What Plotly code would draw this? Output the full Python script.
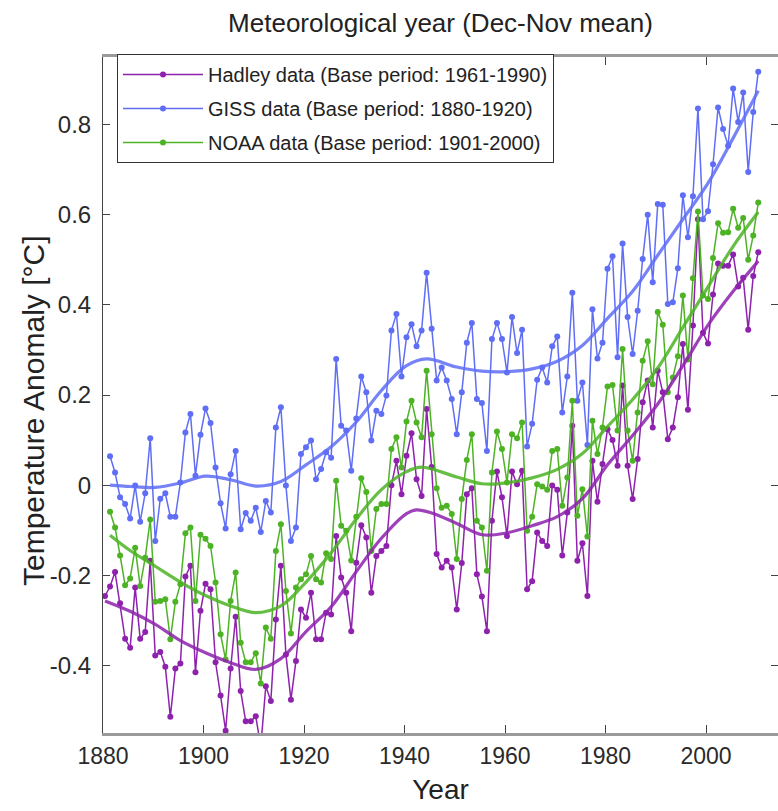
import numpy as np
import plotly.graph_objects as go

# ---------------- data ----------------
hadley_years = list(range(1880, 2011))
hadley = [
    -0.246, -0.225, -0.193, -0.262, -0.341, -0.361, -0.227, -0.341, -0.326, -0.168,
    -0.378, -0.370, -0.403, -0.514, -0.407, -0.396, -0.203, -0.179, -0.415, -0.279,
    -0.219, -0.231, -0.393, -0.467, -0.545, -0.407, -0.292, -0.457, -0.524, -0.524,
    -0.513, -0.580, -0.446, -0.479, -0.298, -0.179, -0.376, -0.476, -0.390, -0.276,
    -0.294, -0.239, -0.342, -0.342, -0.283, -0.287, -0.113, -0.205, -0.239, -0.324,
    -0.172, -0.089, -0.116, -0.239, -0.157, -0.146, -0.135, 0.000, 0.054, -0.020,
    0.065, 0.115, 0.013, -0.024, 0.169, 0.040, -0.153, -0.183, -0.168, -0.183,
    -0.276, -0.173, -0.020, -0.007, -0.198, -0.247, -0.324, -0.079, 0.030, -0.027,
    -0.113, 0.030, 0.002, 0.032, -0.231, -0.213, -0.105, -0.124, -0.135, -0.001,
    -0.010, -0.156, -0.061, 0.132, -0.168, -0.129, -0.246, 0.054, -0.037, 0.047,
    0.124, 0.100, 0.043, 0.221, 0.043, -0.031, 0.058, 0.184, 0.232, 0.128,
    0.254, 0.206, 0.102, 0.128, 0.195, 0.313, 0.167, 0.354, 0.590, 0.338,
    0.314, 0.423, 0.492, 0.487, 0.487, 0.512, 0.441, 0.460, 0.345, 0.464,
    0.517,
]

giss_years = list(range(1881, 2011))
giss = [
    0.064, 0.028, -0.027, -0.042, -0.074, -0.001, -0.081, -0.018, 0.104,
    -0.124, -0.030, -0.018, -0.070, -0.070, 0.006, 0.117, 0.158, 0.021, 0.112,
    0.170, 0.138, 0.039, -0.040, -0.096, 0.024, 0.076, -0.098, -0.062, -0.079,
    -0.050, -0.104, -0.035, -0.061, 0.128, 0.173, -0.001, -0.124, -0.094, 0.069,
    0.084, 0.099, 0.013, 0.036, 0.073, 0.061, 0.280, 0.132, 0.121, 0.032,
    0.148, 0.241, 0.206, 0.099, 0.165, 0.158, 0.199, 0.343, 0.380, 0.241,
    0.328, 0.357, 0.308, 0.343, 0.471, 0.347, 0.232, 0.261, 0.232, 0.191,
    0.113, 0.206, 0.316, 0.360, 0.191, 0.182, 0.076, 0.324, 0.360, 0.324,
    0.250, 0.373, 0.293, 0.345, 0.086, 0.136, 0.234, 0.261, 0.228, 0.308,
    0.330, 0.161, 0.241, 0.427, 0.187, 0.228, 0.089, 0.390, 0.281, 0.316,
    0.480, 0.508, 0.284, 0.536, 0.373, 0.291, 0.387, 0.502, 0.600, 0.450,
    0.624, 0.622, 0.402, 0.406, 0.481, 0.643, 0.550, 0.641, 0.836, 0.590,
    0.608, 0.712, 0.838, 0.790, 0.753, 0.880, 0.806, 0.871, 0.695, 0.828,
    0.917,
]

noaa_years = list(range(1881, 2011))
noaa = [
    -0.059, -0.094, -0.156, -0.222, -0.207, -0.139, -0.224, -0.161, -0.076,
    -0.259, -0.257, -0.253, -0.342, -0.259, -0.220, -0.107, -0.094, -0.257, -0.110,
    -0.119, -0.135, -0.216, -0.331, -0.387, -0.257, -0.194, -0.350, -0.393, -0.393,
    -0.373, -0.440, -0.316, -0.341, -0.146, -0.087, -0.235, -0.329, -0.227, -0.209,
    -0.198, -0.157, -0.209, -0.216, -0.151, -0.164, 0.010, -0.090, -0.101, -0.167,
    -0.070, 0.015, -0.015, -0.146, -0.053, -0.042, -0.042, 0.080, 0.106, 0.039,
    0.141, 0.187, 0.139, 0.106, 0.254, 0.113, -0.007, -0.050, -0.046, -0.064,
    -0.164, -0.031, 0.056, 0.113, -0.079, -0.094, -0.190, 0.028, 0.119, 0.080,
    0.006, 0.113, 0.104, 0.139, -0.101, -0.070, 0.002, -0.003, -0.010, 0.076,
    0.080, -0.046, 0.017, 0.187, -0.068, -0.009, -0.114, 0.143, 0.069, 0.128,
    0.219, 0.222, 0.121, 0.302, 0.121, 0.054, 0.161, 0.276, 0.319, 0.224,
    0.384, 0.356, 0.206, 0.239, 0.286, 0.421, 0.279, 0.459, 0.607, 0.421,
    0.413, 0.504, 0.581, 0.560, 0.561, 0.613, 0.571, 0.593, 0.500, 0.554,
    0.627,
]

# smoothed trend curves
hadley_smooth_years = [1880, 1885, 1890, 1895, 1900, 1905, 1910, 1915, 1920, 1925, 1930,
                       1935, 1940, 1942, 1945, 1950, 1955, 1960, 1965, 1970, 1975, 1980,
                       1985, 1990, 1995, 2000, 2005, 2010]
hadley_smooth = [-0.257, -0.280, -0.309, -0.345, -0.372, -0.394, -0.409, -0.385, -0.325,
                 -0.270, -0.192, -0.118, -0.063, -0.055, -0.062, -0.085, -0.110, -0.106,
                 -0.090, -0.070, -0.030, 0.045, 0.110, 0.180, 0.265, 0.355, 0.430, 0.497]

giss_smooth_years = [1881, 1885, 1890, 1895, 1900, 1905, 1910, 1915, 1920, 1925, 1930,
                     1935, 1940, 1944, 1950, 1955, 1960, 1965, 1970, 1975, 1980, 1985,
                     1990, 1995, 2000, 2005, 2010]
giss_smooth = [0.000, -0.003, -0.005, 0.005, 0.020, 0.012, -0.002, 0.008, 0.045, 0.085,
               0.140, 0.210, 0.265, 0.280, 0.262, 0.253, 0.252, 0.258, 0.275, 0.310,
               0.370, 0.430, 0.510, 0.590, 0.670, 0.770, 0.875]

noaa_smooth_years = [1881, 1885, 1890, 1895, 1900, 1905, 1910, 1915, 1920, 1925, 1930,
                     1935, 1940, 1943, 1950, 1955, 1960, 1965, 1970, 1975, 1980, 1985,
                     1990, 1995, 2000, 2005, 2010]
noaa_smooth = [-0.111, -0.145, -0.180, -0.215, -0.245, -0.268, -0.283, -0.268, -0.215,
               -0.150, -0.075, -0.010, 0.030, 0.040, 0.018, 0.003, 0.005, 0.016, 0.035,
               0.070, 0.130, 0.190, 0.260, 0.350, 0.440, 0.530, 0.606]

legend_names = ["Hadley data (Base period: 1961-1990)",
                "GISS data (Base period: 1880-1920)",
                "NOAA data (Base period: 1901-2000)"]

x_tick_vals = [1880, 1900, 1920, 1940, 1960, 1980, 2000]
y_tick_vals = [-0.4, -0.2, 0, 0.2, 0.4, 0.6, 0.8]
y_tick_text = ["-0.4", "-0.2", "0", "0.2", "0.4", "0.6", "0.8"]

# ---------------- style ----------------
PURPLE = "#8e22ad"
BLUE = "#5f6ef5"
GREEN = "#4db325"
FONT = "Liberation Sans, Arial, sans-serif"
MID = 0.4  # points are drawn at mid-year position

L, R, T, B = 103, 0, 57, 78
W, H = 778, 811
PW, PH = W - L - R, H - T - B

fig = go.Figure()

series = [
    (hadley_years, hadley, PURPLE, legend_names[0]),
    (giss_years, giss, BLUE, legend_names[1]),
    (noaa_years, noaa, GREEN, legend_names[2]),
]
for i, (yrs, vals, col, name) in enumerate(series):
    fig.add_trace(go.Scatter(
        x=np.array(yrs) + MID, y=vals, mode="lines+markers", name=name,
        line=dict(color=col, width=1.5), marker=dict(color=col, size=6),
        legendgroup=f"g{i}",
    ))

for yrs, vals, col in [(hadley_smooth_years, hadley_smooth, PURPLE),
                       (giss_smooth_years, giss_smooth, BLUE),
                       (noaa_smooth_years, noaa_smooth, GREEN)]:
    fig.add_trace(go.Scatter(
        x=np.array(yrs) + MID, y=vals, mode="lines", showlegend=False,
        line=dict(color=col, width=3.2, shape="spline", smoothing=1.0),
        opacity=0.85, hoverinfo="skip",
    ))

fig.update_layout(
    width=W, height=H,
    margin=dict(l=L, r=R, t=T, b=B),
    paper_bgcolor="white", plot_bgcolor="white",
    showlegend=True,
    title=dict(text="Meteorological year (Dec-Nov mean)",
               font=dict(family=FONT, size=26, color="#222"),
               x=(L + W) / 2 / W, xanchor="center", y=1 - 23 / H, yanchor="middle"),
    legend=dict(x=(117 - L) / PW, y=1 + (T - 54) / PH, xanchor="left", yanchor="top",
                bgcolor="white", bordercolor="#333", borderwidth=1,
                font=dict(family=FONT, size=20, color="#222"),
                itemwidth=80, tracegroupgap=5),
    xaxis=dict(range=[1880, 1880 + PW / 5.025],
               tickvals=x_tick_vals, ticks="inside", ticklen=8, tickcolor="#444",
               showline=True, linecolor="#9a9a9a", linewidth=3, mirror="ticks",
               showgrid=False, zeroline=False,
               tickfont=dict(family=FONT, size=23, color="#2a2a2a"),
               ticklabelstandoff=0,
               title=dict(text="Year", font=dict(family=FONT, size=28, color="#222"),
                          standoff=12)),
    yaxis=dict(range=[-0.55, 0.95], tickvals=y_tick_vals, ticktext=y_tick_text,
               ticks="inside", ticklen=7, tickcolor="#444",
               showline=True, linecolor="#444", linewidth=1, mirror=False,
               showgrid=False, zeroline=False,
               tickfont=dict(family=FONT, size=24, color="#2a2a2a"),
               ticklabelstandoff=6),
    yaxis2=dict(range=[-0.55, 0.95], overlaying="y", side="right",
                tickvals=y_tick_vals, ticks="inside", ticklen=7, tickcolor="#444",
                showticklabels=False, showline=False, showgrid=False, zeroline=False),
    annotations=[dict(text="Temperature Anomaly [°C]", textangle=-90,
                      xref="paper", yref="paper",
                      x=(33 - L) / PW, y=(H - B - 411) / PH,
                      xanchor="center", yanchor="middle", showarrow=False,
                      font=dict(family=FONT, size=30, color="#222"))],
)
# invisible helper so the right-hand tick axis is rendered
fig.add_trace(go.Scatter(x=[1880], y=[0], yaxis="y2", mode="markers",
                         marker=dict(opacity=0), showlegend=False, hoverinfo="skip"))

fig.write_html("out.html")
